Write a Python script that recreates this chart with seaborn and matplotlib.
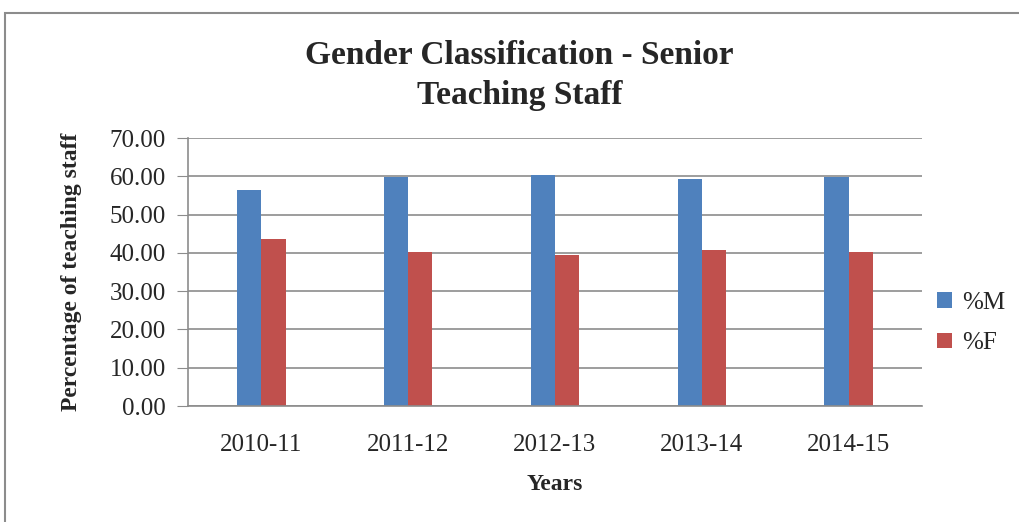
import pandas as pd
import matplotlib.pyplot as plt
from matplotlib.patches import Rectangle
import seaborn as sns

years = ["2010-11", "2011-12", "2012-13", "2013-14", "2014-15"]
pct_m = [56.5, 59.8, 60.4, 59.2, 59.8]
pct_f = [43.5, 40.1, 39.5, 40.8, 40.1]
series = ["%M", "%F"]
colors = ["#4F81BD", "#C0504D"]

df = pd.DataFrame({"Years": years * 2,
                   "Value": pct_m + pct_f,
                   "Series": [series[0]] * len(years) + [series[1]] * len(years)})

sns.set_style("white")
plt.rcParams['font.family'] = ['Liberation Serif', 'DejaVu Serif']

fig = plt.figure(figsize=(10.19, 5.22), dpi=100)
ax = fig.add_axes([0.1845, 0.2222, 0.7203, 0.5134])

# outer frame of the chart
fig.patches.append(Rectangle((5 / 1019, -0.1), 1.2, 1 - 13 / 522 + 0.1,
                             transform=fig.transFigure, fill=False,
                             edgecolor="#8c8c8c", linewidth=1.5))

sns.barplot(data=df, x="Years", y="Value", hue="Series", palette=colors,
            width=0.33, saturation=1, linewidth=0, ax=ax, legend=True)

ax.set_ylim(0, 70)
ax.set_yticks(range(0, 71, 10))
ax.set_yticklabels([f"{v:.2f}" for v in range(0, 71, 10)], fontsize=18)
ax.tick_params(axis="x", labelsize=18, length=0, pad=20)
ax.tick_params(axis="y", length=8, color="#8c8c8c", left=True, pad=8)
ax.yaxis.grid(True, color="#8c8c8c", linewidth=1.2)
ax.set_axisbelow(True)
for s in ["top", "right"]:
    ax.spines[s].set_visible(False)
for s in ["left", "bottom"]:
    ax.spines[s].set_color("#8c8c8c")
    ax.spines[s].set_linewidth(1.2)

ax.set_xlabel("Years", fontsize=17, fontweight="bold", labelpad=13)
ax.set_ylabel("Percentage of teaching staff", fontsize=17, fontweight="bold", labelpad=20)

fig.text(0.51, 0.855, "Gender Classification - Senior\nTeaching Staff",
         ha="center", va="center", fontsize=24, fontweight="bold", linespacing=1.4)

ax.legend(loc="center left", bbox_to_anchor=(0.99, 0.31), frameon=False,
          fontsize=18, handlelength=0.6, handleheight=0.6, handletextpad=0.4,
          labelspacing=0.75)

fig.savefig("out.png", dpi=100)
